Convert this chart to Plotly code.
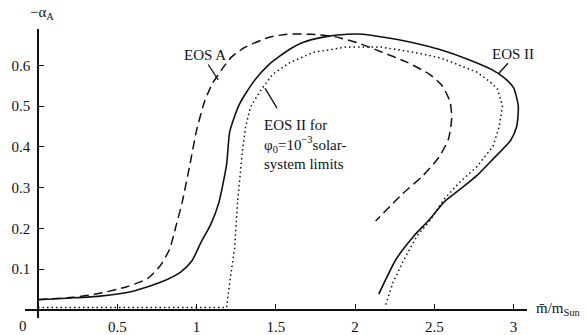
import plotly.graph_objects as go

# ---- data ----
eos_a_m = [0.0, 0.22, 0.39, 0.56, 0.69, 0.77, 0.83, 0.87, 0.91, 0.96, 1.0, 1.05, 1.1, 1.16, 1.22,
           1.3, 1.46, 1.57, 1.72, 1.86, 2.01, 2.16, 2.33, 2.47, 2.55, 2.6, 2.61, 2.59, 2.53, 2.43, 2.3, 2.13]
eos_a_a = [0.026, 0.031, 0.041, 0.057, 0.077, 0.108, 0.149, 0.205, 0.265, 0.36, 0.44, 0.51, 0.555, 0.59, 0.62,
           0.643, 0.669, 0.676, 0.676, 0.671, 0.656, 0.634, 0.607, 0.578, 0.55, 0.51, 0.47, 0.42, 0.375, 0.33, 0.285, 0.218]

eos2_m = [0.0, 0.18, 0.39, 0.6, 0.78, 0.9, 0.97, 1.03, 1.09, 1.14, 1.19, 1.21, 1.27, 1.36, 1.46, 1.59, 1.67,
          1.8, 1.95, 2.05, 2.16, 2.36, 2.54, 2.71, 2.86, 2.94, 3.0, 3.03, 3.02, 2.98, 2.87, 2.77, 2.66, 2.56,
          2.47, 2.37, 2.26, 2.15]
eos2_a = [0.025, 0.029, 0.034, 0.046, 0.069, 0.093, 0.12, 0.167, 0.21, 0.262, 0.357, 0.438, 0.504, 0.56, 0.603,
          0.64, 0.656, 0.669, 0.676, 0.676, 0.67, 0.656, 0.638, 0.615, 0.59, 0.57, 0.545, 0.5, 0.45, 0.415,
          0.37, 0.33, 0.295, 0.264, 0.222, 0.181, 0.125, 0.039]

eos2s_m = [0.0, 0.6, 1.19, 1.21, 1.24, 1.26, 1.29, 1.31, 1.34, 1.4, 1.48, 1.59, 1.74, 1.95, 2.16, 2.37, 2.54,
           2.66, 2.77, 2.85, 2.9, 2.93, 2.91, 2.87, 2.77, 2.66, 2.56, 2.47, 2.39, 2.3, 2.24, 2.19]
eos2s_a = [0.006, 0.006, 0.006, 0.07, 0.15, 0.27, 0.39, 0.45, 0.497, 0.536, 0.578, 0.607, 0.632, 0.645, 0.645,
           0.632, 0.618, 0.6, 0.583, 0.56, 0.541, 0.5, 0.45, 0.401, 0.352, 0.313, 0.271, 0.218, 0.181, 0.117,
           0.068, 0.008]

x_ticks = [0.5, 1, 1.5, 2, 2.5, 3]
x_tick_text = ["0.5", "1", "1.5", "2", "2.5", "3"]
y_ticks = [0.1, 0.2, 0.3, 0.4, 0.5, 0.6]
y_tick_text = ["0.1", "0.2", "0.3", "0.4", "0.5", "0.6"]

X_RANGE = [-0.082, 3.085]
Y_RANGE = [-0.0196, 0.689]

FONT = "Liberation Serif, Times New Roman, serif"
BLACK = "#111111"

fig = go.Figure()
fig.add_trace(go.Scatter(x=eos_a_m, y=eos_a_a, mode="lines", name="EOS A",
                         line=dict(color=BLACK, width=1.5, dash="9px,5px", shape="spline", smoothing=0.6)))
fig.add_trace(go.Scatter(x=eos2_m, y=eos2_a, mode="lines", name="EOS II",
                         line=dict(color=BLACK, width=1.6, shape="spline", smoothing=0.6)))
fig.add_trace(go.Scatter(x=eos2s_m, y=eos2s_a, mode="lines", name="EOS II solar",
                         line=dict(color=BLACK, width=1.5, dash="1.5px,3px")))

x_pos = (0 - Y_RANGE[0]) / (Y_RANGE[1] - Y_RANGE[0])
y_pos = (0 - X_RANGE[0]) / (X_RANGE[1] - X_RANGE[0])

fig.update_layout(
    width=587, height=335,
    margin=dict(l=25, r=60, t=29, b=17),
    plot_bgcolor="white", paper_bgcolor="white",
    showlegend=False,
    font=dict(family=FONT, size=15, color=BLACK),
    xaxis=dict(range=X_RANGE, anchor="free", position=x_pos, showline=True, linecolor=BLACK, linewidth=1.5,
               ticks="inside", ticklen=5, tickwidth=1.3, tickcolor=BLACK, automargin=False,
               tickvals=x_ticks, ticktext=x_tick_text, showgrid=False, zeroline=False,
               ticklabelstandoff=3, tickfont=dict(family=FONT, size=15, color=BLACK)),
    yaxis=dict(range=Y_RANGE, anchor="free", position=y_pos, showline=True, linecolor=BLACK, linewidth=1.5,
               ticks="inside", ticklen=5, tickwidth=1.3, tickcolor=BLACK, automargin=False,
               tickvals=y_ticks, ticktext=y_tick_text, showgrid=False, zeroline=False,
               ticklabelstandoff=4, tickfont=dict(family=FONT, size=15, color=BLACK)),
)

annotations = [
    dict(text="EOS A", x=1.054, y=0.625, xref="x", yref="y", showarrow=False),
    dict(text="EOS II", x=2.997, y=0.627, xref="x", yref="y", showarrow=False),
    dict(text="EOS II for<br>φ<sub>0</sub>=10<sup>−3</sup>solar-<br>system limits", x=1.413, y=0.478,
         xref="x", yref="y", xanchor="left", yanchor="top", align="left", showarrow=False),
    dict(text="−α<sub>A</sub>", x=0, y=1, xref="x", yref="paper", xshift=4, yshift=16,
         xanchor="center", yanchor="middle", showarrow=False),
    dict(text="m\u0304/m<sub>Sun</sub>", x=1, y=0, xref="paper", yref="y", xshift=7, yshift=1,
         xanchor="left", yanchor="middle", showarrow=False),
    dict(text="0", x=0, y=0, xref="x", yref="y", xshift=-15, yshift=-16, showarrow=False),
]
for a in annotations:
    a.setdefault("font", dict(family=FONT, size=15, color=BLACK))
fig.update_layout(annotations=annotations)

leaders = [
    ((1.074, 0.602), (1.137, 0.564)),
    ((2.965, 0.605), (2.902, 0.578)),
    ((1.432, 0.544), (1.508, 0.495)),
]
for (x0, y0), (x1, y1) in leaders:
    fig.add_shape(type="line", x0=x0, y0=y0, x1=x1, y1=y1, xref="x", yref="y",
                  line=dict(color=BLACK, width=1.3))

fig.write_html("out.html", config={"displayModeBar": False},
               post_script="document.body.style.margin='0px';document.body.style.overflow='hidden';")
